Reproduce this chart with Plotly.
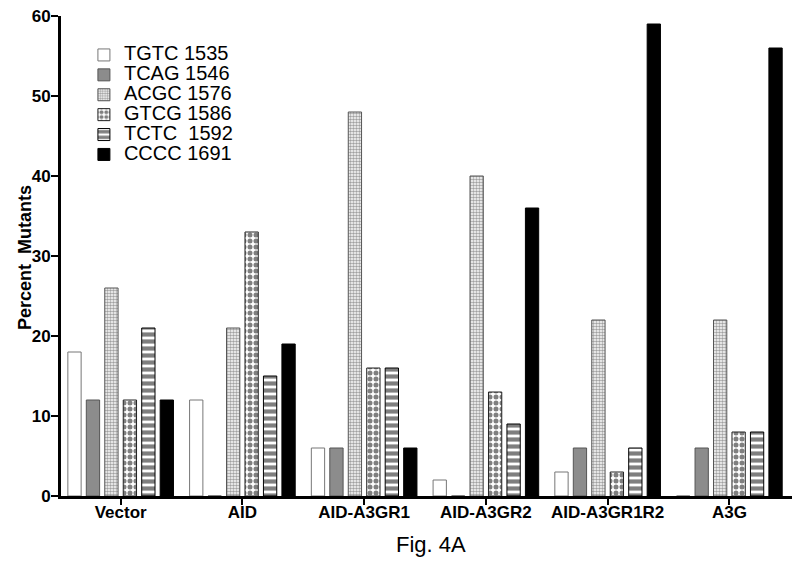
import plotly.graph_objects as go

# Données
categories = ["Vector", "AID", "AID-A3GR1", "AID-A3GR2", "AID-A3GR1R2", "A3G"]
series_names = ["TGTC 1535", "TCAG 1546", "ACGC 1576", "GTCG 1586", "TCTC  1592", "CCCC 1691"]
tgtc = [18, 12, 6, 2, 3, 0]
tcag = [12, 0, 6, 0, 6, 6]
acgc = [26, 21, 48, 40, 22, 22]
gtcg = [12, 33, 16, 13, 3, 8]
tctc = [21, 15, 16, 9, 6, 8]
cccc = [12, 19, 6, 36, 59, 56]
y_ticks = [0, 10, 20, 30, 40, 50, 60]

values = [tgtc, tcag, acgc, gtcg, tctc, cccc]

# Styles des barres (motifs noir et blanc)
styles = [
    dict(color="white", line="#777777", pattern=None),
    dict(color="#8c8c8c", line="#555555", pattern=None),
    dict(color="white", line="#555555",
         pattern=dict(shape=".", size=3, solidity=0.55, fgcolor="#444444", bgcolor="white")),
    dict(color="white", line="#222222",
         pattern=dict(shape=".", size=6, solidity=0.55, fgcolor="black", bgcolor="white")),
    dict(color="white", line="black",
         pattern=dict(shape="-", size=7, solidity=0.6, fgcolor="black", bgcolor="white")),
    dict(color="black", line="black", pattern=None),
]

fig = go.Figure()
for name, vals, st in zip(series_names, values, styles):
    marker = dict(color=st["color"], line=dict(color=st["line"], width=1))
    if st["pattern"]:
        marker["pattern"] = st["pattern"]
    # texte de légende plus grand que l'espacement des lignes
    label = '<span style="font-size:20px">%s</span>' % name.replace("  ", "&nbsp; ")
    fig.add_trace(go.Bar(name=label, x=categories, y=vals, marker=marker))

# la page a une marge de 8px autour du graphique : on compense
fig.update_layout(
    width=792, height=556,
    barmode="group", bargap=0.09, bargroupgap=0.28,
    plot_bgcolor="white", paper_bgcolor="white",
    margin=dict(l=53, r=0, t=8, b=68, autoexpand=False),
    font=dict(family="Liberation Sans, Arial, sans-serif", color="black"),
    legend=dict(x=0.031, y=0.95, xanchor="left", yanchor="top",
                bgcolor="rgba(0,0,0,0)", font=dict(size=13),
                itemwidth=30, tracegroupgap=0),
    showlegend=True,
)
fig.update_xaxes(
    range=[-0.49, 5.58], showline=True, linecolor="black", linewidth=3,
    ticks="outside", ticklen=6, tickwidth=2, tickcolor="black",
    tickfont=dict(size=17, weight="bold"), automargin=False, ticklabelstandoff=-7,
    showgrid=False,
)
fig.update_yaxes(
    range=[0, 60], tickvals=y_ticks, showline=True, linecolor="black", linewidth=3,
    ticks="outside", ticklen=7, tickwidth=2, tickcolor="black",
    tickfont=dict(size=17, weight="bold"), automargin=False, ticklabelstandoff=-3,
    ticklabeloverflow="allow",
    showgrid=False, zeroline=False,
)
fig.add_annotation(text="Percent  Mutants", xref="paper", yref="paper", x=-0.048, y=0.497,
                   textangle=-90, xanchor="center", yanchor="middle", showarrow=False,
                   font=dict(size=18, weight="bold"))
fig.add_annotation(text="Fig. 4A", xref="paper", yref="paper", x=0.5, y=-0.102,
                   xanchor="center", yanchor="middle", showarrow=False,
                   font=dict(size=22))

fig.write_html("out.html")
